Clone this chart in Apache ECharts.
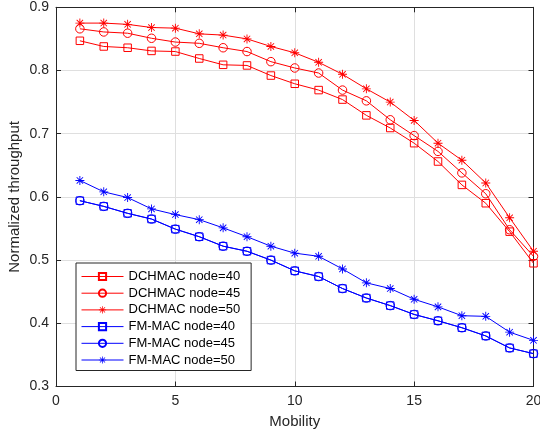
<!DOCTYPE html>
<html>
<head>
<meta charset="utf-8">
<script src="https://cdn.jsdelivr.net/npm/echarts@6/dist/echarts.min.js"></script>
<style>
html,body{margin:0;padding:0;background:#fff;}
#c{width:540px;height:435px;}
</style>
</head>
<body>
<div id="c"></div>
<script>
const mobility = [1,2,3,4,5,6,7,8,9,10,11,12,13,14,15,16,17,18,19,20];
const xTicks = [0,5,10,15,20];
const yTicks = [0.3,0.4,0.5,0.6,0.7,0.8,0.9];
const dchmac40 = [0.847,0.838,0.836,0.831,0.830,0.819,0.809,0.808,0.792,0.779,0.769,0.754,0.729,0.709,0.685,0.656,0.619,0.590,0.545,0.495];
const dchmac45 = [0.866,0.861,0.859,0.851,0.845,0.843,0.836,0.830,0.814,0.804,0.796,0.769,0.752,0.722,0.697,0.672,0.638,0.605,0.548,0.506];
const dchmac50 = [0.875,0.875,0.873,0.868,0.867,0.858,0.856,0.850,0.838,0.828,0.813,0.794,0.771,0.750,0.721,0.685,0.658,0.622,0.567,0.514];
const fmmac40 = [0.594,0.585,0.574,0.565,0.549,0.537,0.522,0.514,0.500,0.483,0.474,0.455,0.440,0.428,0.414,0.404,0.393,0.380,0.361,0.352];
const fmmac45 = [0.594,0.585,0.574,0.565,0.549,0.537,0.522,0.514,0.500,0.483,0.474,0.455,0.440,0.428,0.414,0.404,0.393,0.380,0.361,0.352];
const fmmac50 = [0.626,0.608,0.599,0.581,0.572,0.564,0.551,0.537,0.522,0.511,0.506,0.486,0.464,0.455,0.438,0.426,0.412,0.411,0.386,0.373];
const seriesNames = ['DCHMAC node=40','DCHMAC node=45','DCHMAC node=50','FM-MAC node=40','FM-MAC node=45','FM-MAC node=50'];

const STAR = 'path://M9 0H11V20H9Z M0 9H20V11H0Z M3.6 2.2L17.8 16.4L16.4 17.8L2.2 3.6Z M16.4 2.2L17.8 3.6L3.6 17.8L2.2 16.4Z';
const RED = '#ff0000', BLUE = '#0000ff', INK = '#262626', GRIDC = '#dfdfdf';
const FONT = 'Liberation Sans, Arial, Helvetica, sans-serif';
const colors = [RED, RED, RED, BLUE, BLUE, BLUE];

function mk(name, vals, color, kind) {
  const s = {
    name: name, type: 'line',
    data: mobility.map((x, i) => [x, vals[i]]),
    lineStyle: {color: color, width: 1},
    emphasis: {disabled: true},
    z: 5
  };
  if (kind === 'star') {
    s.symbol = STAR; s.symbolSize = 9;
    s.itemStyle = {color: color, borderWidth: 0};
  } else if (kind === 'rect') {
    s.symbol = 'rect'; s.symbolSize = 7.5;
    s.itemStyle = {color: 'rgba(255,255,255,0)', borderColor: color, borderWidth: 1};
  } else {
    s.symbol = 'circle'; s.symbolSize = 8.5;
    s.itemStyle = {color: 'rgba(255,255,255,0)', borderColor: color, borderWidth: 1};
  }
  return s;
}

const chart = echarts.init(document.getElementById('c'), null, {renderer: 'canvas'});
const axisCommon = {
  axisLine: {show: true, onZero: false, lineStyle: {color: INK, width: 1}},
  axisTick: {show: true, inside: true, length: 5, lineStyle: {color: INK}},
};
chart.setOption({
  animation: false,
  backgroundColor: '#fff',
  textStyle: {fontFamily: FONT},
  grid: {left: 56, right: 6.5, top: 7.3, bottom: 48.5, containLabel: false, outerBoundsMode: 'none'},
  legend: {
    orient: 'vertical', left: 76, top: 263,
    data: seriesNames.map((n, i) => ({name: n, lineStyle: {color: colors[i], width: 1}})),
    itemWidth: 42, itemHeight: 9, itemGap: 3.7,
    padding: [7, 11, 4, 5],
    backgroundColor: '#fff', borderColor: INK, borderWidth: 1, borderRadius: 0,
    textStyle: {fontSize: 13, color: '#000', fontFamily: FONT},
    selectedMode: false
  },
  xAxis: [
    Object.assign({
      type: 'value', min: xTicks[0], max: xTicks[xTicks.length - 1], interval: xTicks[1] - xTicks[0],
      position: 'bottom', name: 'Mobility', nameLocation: 'middle', nameGap: 28,
      nameTextStyle: {fontSize: 15, color: INK, fontFamily: FONT},
      axisLabel: {fontSize: 14, color: INK, margin: 8, fontFamily: FONT},
      splitLine: {show: true, lineStyle: {color: GRIDC, width: 1}}
    }, axisCommon),
    Object.assign({
      type: 'value', min: xTicks[0], max: xTicks[xTicks.length - 1], interval: xTicks[1] - xTicks[0],
      position: 'top', axisLabel: {show: false}, splitLine: {show: false}
    }, axisCommon)
  ],
  yAxis: [
    Object.assign({
      type: 'value', min: yTicks[0], max: yTicks[yTicks.length - 1], interval: 0.1,
      position: 'left', name: 'Normalized throughput', nameLocation: 'middle', nameGap: 34,
      nameMoveOverlap: false,
      nameTextStyle: {fontSize: 15, color: INK, fontFamily: FONT},
      axisLabel: {fontSize: 14, color: INK, margin: 7, fontFamily: FONT,
        formatter: v => (Math.round(v * 10) / 10).toFixed(1)},
      splitLine: {show: true, lineStyle: {color: GRIDC, width: 1}}
    }, axisCommon),
    Object.assign({
      type: 'value', min: yTicks[0], max: yTicks[yTicks.length - 1], interval: 0.1,
      position: 'right', axisLabel: {show: false}, splitLine: {show: false}
    }, axisCommon)
  ],
  series: [
    mk(seriesNames[0], dchmac40, RED, 'rect'),
    mk(seriesNames[1], dchmac45, RED, 'circle'),
    mk(seriesNames[2], dchmac50, RED, 'star'),
    mk(seriesNames[3], fmmac40, BLUE, 'rect'),
    mk(seriesNames[4], fmmac45, BLUE, 'circle'),
    mk(seriesNames[5], fmmac50, BLUE, 'star')
  ]
});
</script>
</body>
</html>
